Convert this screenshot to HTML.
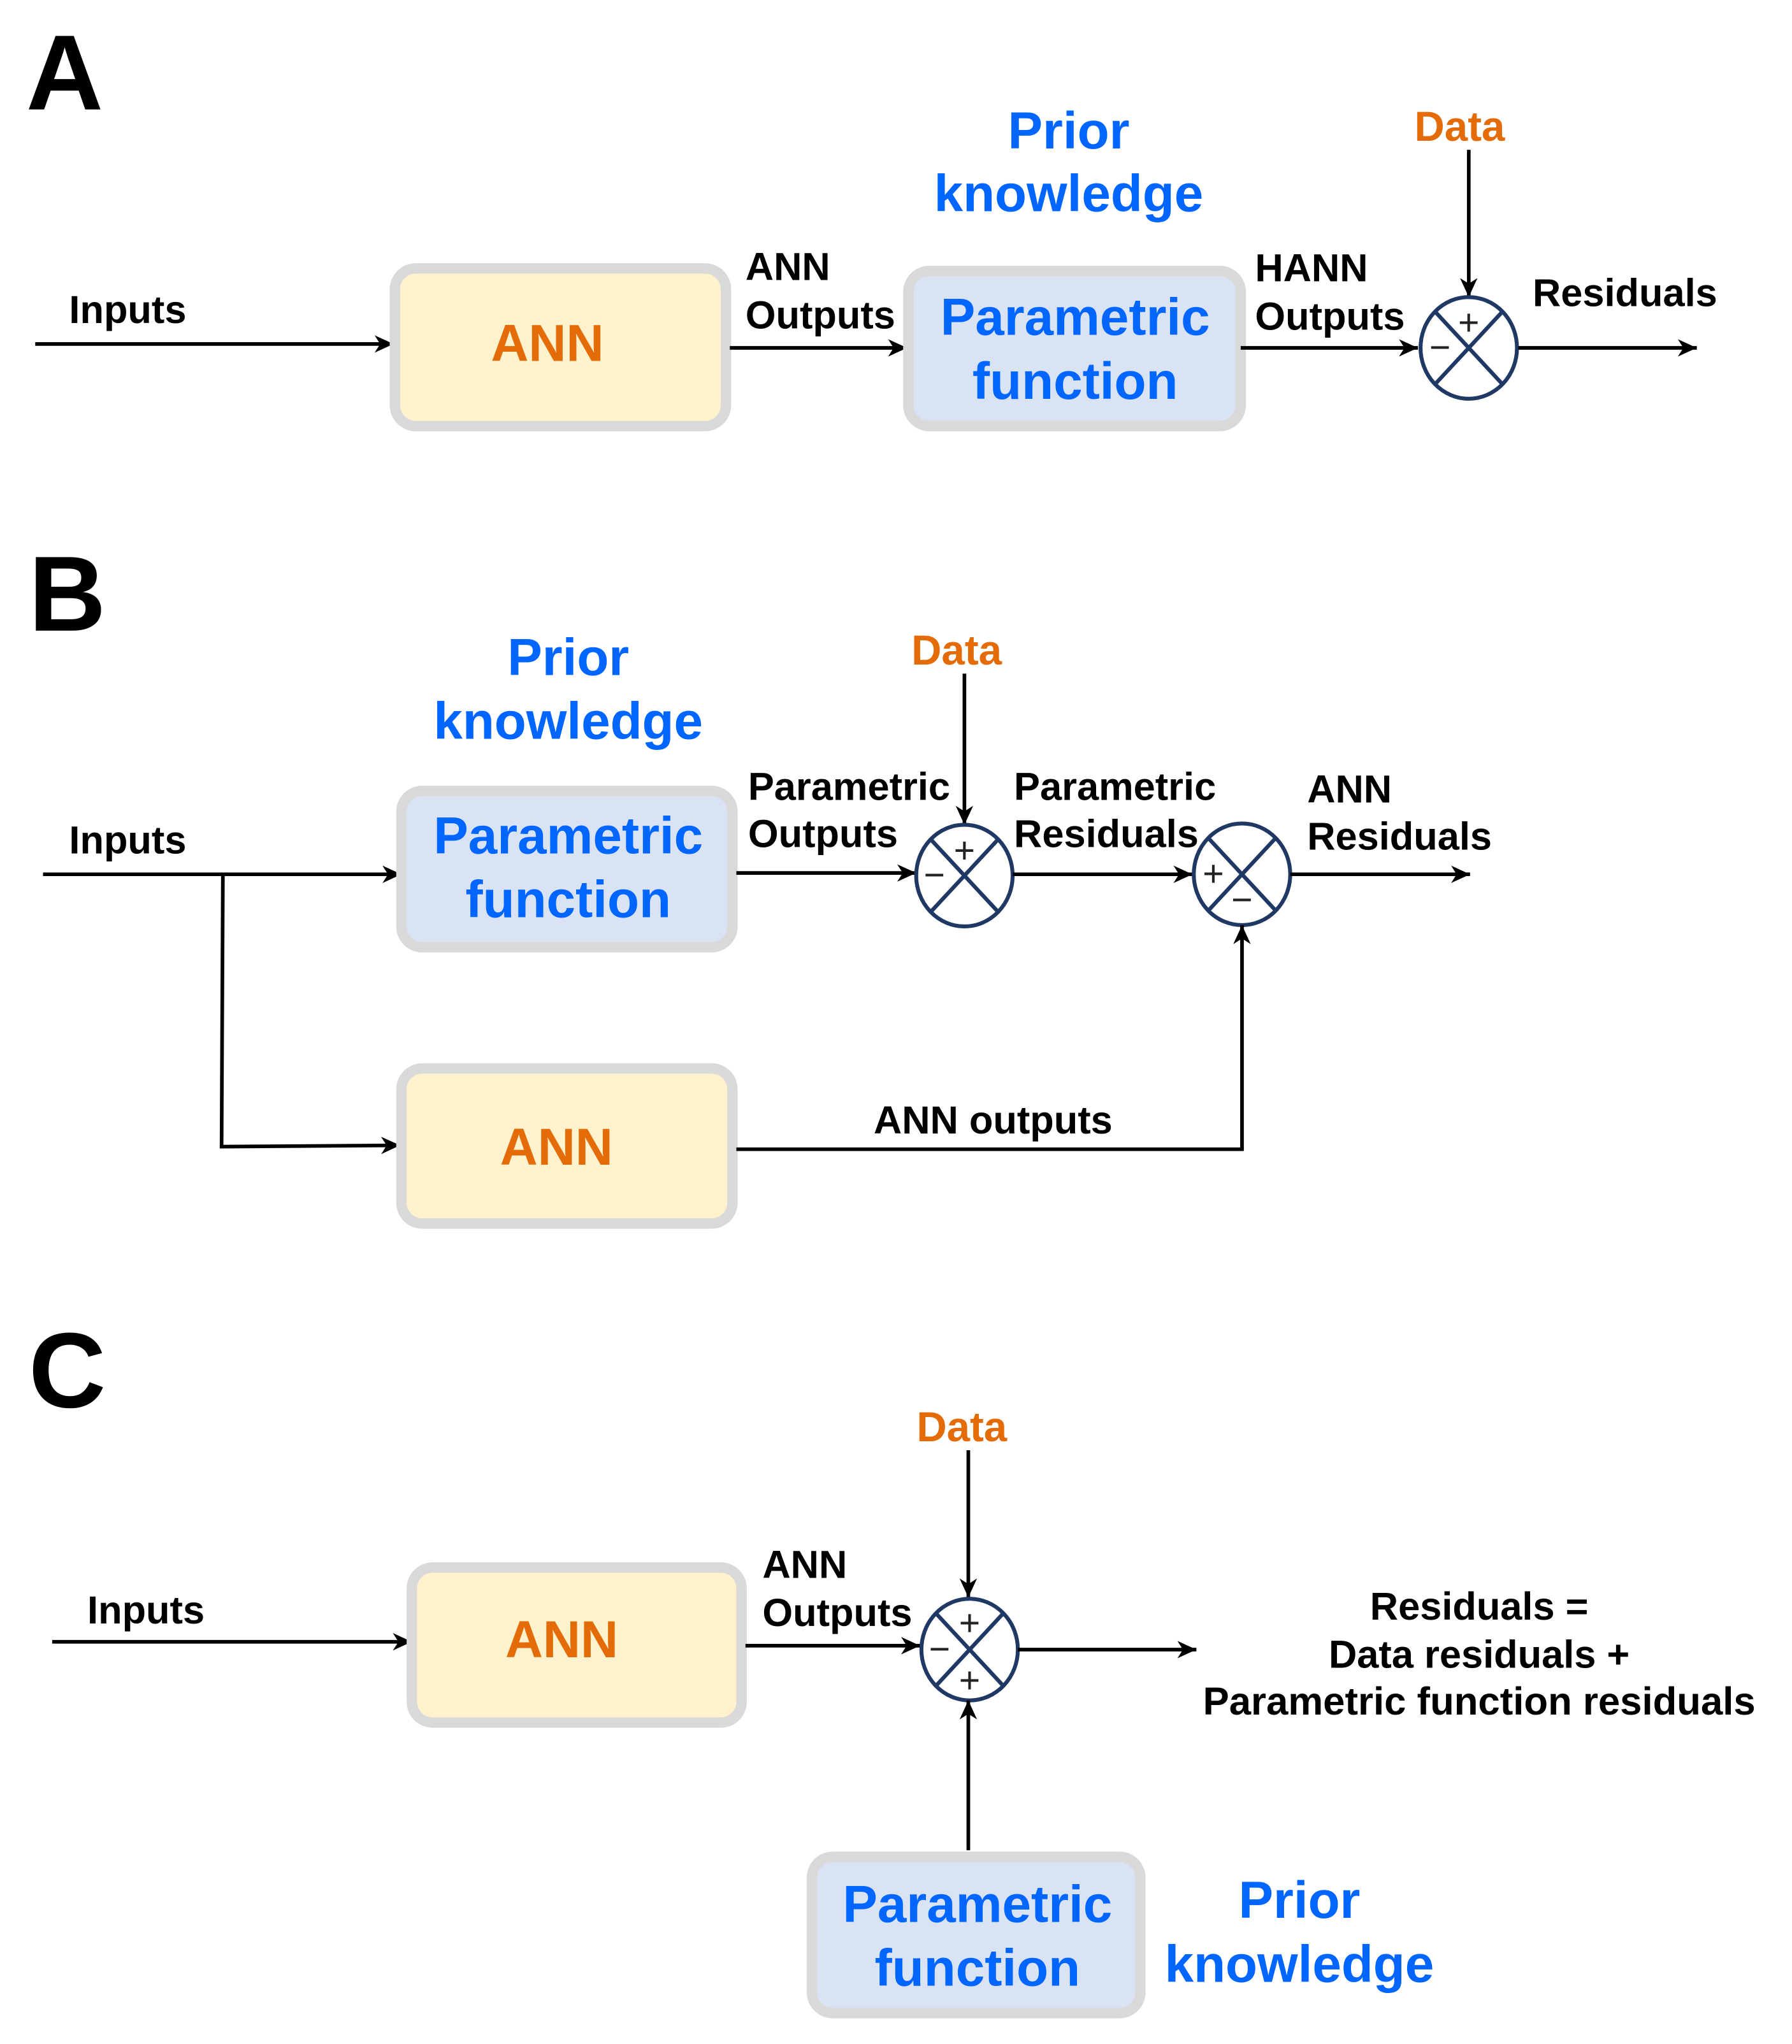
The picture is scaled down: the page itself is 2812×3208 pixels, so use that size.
<!DOCTYPE html>
<html><head><meta charset="utf-8"><style>html,body{margin:0;padding:0;background:#fff}svg{display:block}</style></head>
<body>
<svg width="2812" height="3208" viewBox="0 0 1375 1568.7" xmlns="http://www.w3.org/2000/svg" font-family="Liberation Sans, Arial, sans-serif" font-weight="bold">
<defs>
<marker id="a" viewBox="0 0 14 14" refX="13" refY="7" markerWidth="17" markerHeight="17" orient="auto" markerUnits="userSpaceOnUse">
<path d="M1,1.5 L13,7 L1,12.5 L4.5,7 Z" fill="#000"/>
</marker>
<g id="sum">
<ellipse cx="0" cy="0" rx="37" ry="39" fill="#fff" stroke="#1f3864" stroke-width="3"/>
<line x1="-26" y1="-28" x2="26" y2="28" stroke="#1f3864" stroke-width="3"/>
<line x1="26" y1="-28" x2="-26" y2="28" stroke="#1f3864" stroke-width="3"/>
</g>
</defs>
<style>
.l{stroke:#000;stroke-width:2.8;fill:none}
.s{font-size:30px;fill:#000}
.big{font-size:40px}
.o{fill:#e36c09}
.b{fill:#0066ff}
.sg{font-size:28px;font-weight:normal;fill:#222}
</style>

<!-- A -->
<text x="20" y="84" font-size="82" fill="#000">A</text>
<text x="53" y="248" class="s">Inputs</text>
<line x1="27" y1="264" x2="302" y2="264" class="l" marker-end="url(#a)"/>
<rect x="303" y="206" width="254" height="121" rx="16" fill="#fff2cc" stroke="#d9d9d9" stroke-width="8"/>
<text x="420" y="277" text-anchor="middle" class="big o">ANN</text>
<text x="572" y="215" class="s">ANN</text>
<text x="572" y="252" class="s">Outputs</text>
<line x1="560" y1="267" x2="696" y2="267" class="l" marker-end="url(#a)"/>
<rect x="697" y="208" width="255" height="119" rx="16" fill="#dae3f3" stroke="#d9d9d9" stroke-width="8"/>
<text x="825" y="257" text-anchor="middle" class="big b">Parametric</text>
<text x="825" y="306" text-anchor="middle" class="big b">function</text>
<text x="820" y="114" text-anchor="middle" class="big b">Prior</text>
<text x="820" y="162" text-anchor="middle" class="big b">knowledge</text>
<text x="963" y="216" class="s">HANN</text>
<text x="963" y="253" class="s">Outputs</text>
<line x1="952" y1="267" x2="1088" y2="267" class="l" marker-end="url(#a)"/>
<text x="1120" y="108" text-anchor="middle" font-size="32" class="o">Data</text>
<line x1="1127" y1="115" x2="1127" y2="228" class="l" marker-end="url(#a)"/>
<use href="#sum" x="1127" y="267"/>
<text x="1127" y="257" text-anchor="middle" class="sg">+</text>
<text x="1105" y="276" text-anchor="middle" class="sg">−</text>
<text x="1176" y="235" class="s">Residuals</text>
<line x1="1165" y1="267" x2="1302" y2="267" class="l" marker-end="url(#a)"/>

<!-- B -->
<text x="22" y="484" font-size="82" fill="#000">B</text>
<text x="436" y="518" text-anchor="middle" class="big b">Prior</text>
<text x="436" y="567" text-anchor="middle" class="big b">knowledge</text>
<text x="734" y="510" text-anchor="middle" font-size="32" class="o">Data</text>
<text x="53" y="655" class="s">Inputs</text>
<line x1="33" y1="671" x2="308" y2="671" class="l" marker-end="url(#a)"/>
<polyline points="171,671 170,880 307,879" class="l" marker-end="url(#a)"/>
<rect x="308" y="607" width="254" height="120" rx="16" fill="#dae3f3" stroke="#d9d9d9" stroke-width="8"/>
<text x="436" y="655" text-anchor="middle" class="big b">Parametric</text>
<text x="436" y="704" text-anchor="middle" class="big b">function</text>
<text x="574" y="614" class="s">Parametric</text>
<text x="574" y="650" class="s">Outputs</text>
<line x1="565" y1="670" x2="703" y2="670" class="l" marker-end="url(#a)"/>
<line x1="740" y1="517" x2="740" y2="633" class="l" marker-end="url(#a)"/>
<use href="#sum" x="740" y="672"/>
<text x="740" y="662" text-anchor="middle" class="sg">+</text>
<text x="717" y="681" text-anchor="middle" class="sg">−</text>
<text x="778" y="614" class="s">Parametric</text>
<text x="778" y="650" class="s">Residuals</text>
<line x1="777" y1="671" x2="915" y2="671" class="l" marker-end="url(#a)"/>
<use href="#sum" x="953" y="671"/>
<text x="931" y="680" text-anchor="middle" class="sg">+</text>
<text x="953" y="700" text-anchor="middle" class="sg">−</text>
<text x="1003" y="616" class="s">ANN</text>
<text x="1003" y="652" class="s">Residuals</text>
<line x1="990" y1="671" x2="1128" y2="671" class="l" marker-end="url(#a)"/>
<rect x="308" y="820" width="254" height="119" rx="16" fill="#fff2cc" stroke="#d9d9d9" stroke-width="8"/>
<text x="427" y="894" text-anchor="middle" class="big o">ANN</text>
<text x="762" y="870" text-anchor="middle" class="s">ANN outputs</text>
<polyline points="565,882 953,882 953,710" class="l" marker-end="url(#a)"/>

<!-- C -->
<text x="22" y="1080" font-size="82" fill="#000">C</text>
<text x="738" y="1106" text-anchor="middle" font-size="32" class="o">Data</text>
<line x1="743" y1="1113" x2="743" y2="1226" class="l" marker-end="url(#a)"/>
<text x="67" y="1246" class="s">Inputs</text>
<line x1="40" y1="1260" x2="316" y2="1260" class="l" marker-end="url(#a)"/>
<rect x="316" y="1203" width="253" height="119" rx="16" fill="#fff2cc" stroke="#d9d9d9" stroke-width="8"/>
<text x="431" y="1272" text-anchor="middle" class="big o">ANN</text>
<text x="585" y="1211" class="s">ANN</text>
<text x="585" y="1248" class="s">Outputs</text>
<line x1="572" y1="1263" x2="706" y2="1263" class="l" marker-end="url(#a)"/>
<use href="#sum" x="744" y="1266"/>
<text x="744" y="1255" text-anchor="middle" class="sg">+</text>
<text x="721" y="1275" text-anchor="middle" class="sg">−</text>
<text x="744" y="1299" text-anchor="middle" class="sg">+</text>
<line x1="781" y1="1266" x2="918" y2="1266" class="l" marker-end="url(#a)"/>
<text x="1135" y="1243" text-anchor="middle" class="s">Residuals =</text>
<text x="1135" y="1280" text-anchor="middle" class="s">Data residuals +</text>
<text x="1135" y="1316" text-anchor="middle" class="s" textLength="424" lengthAdjust="spacingAndGlyphs">Parametric function residuals</text>
<line x1="743" y1="1420" x2="743" y2="1305" class="l" marker-end="url(#a)"/>
<rect x="623" y="1425" width="252" height="120" rx="16" fill="#dae3f3" stroke="#d9d9d9" stroke-width="8"/>
<text x="750" y="1475" text-anchor="middle" class="big b">Parametric</text>
<text x="750" y="1524" text-anchor="middle" class="big b">function</text>
<text x="997" y="1472" text-anchor="middle" class="big b">Prior</text>
<text x="997" y="1521" text-anchor="middle" class="big b">knowledge</text>
</svg>
</body></html>
